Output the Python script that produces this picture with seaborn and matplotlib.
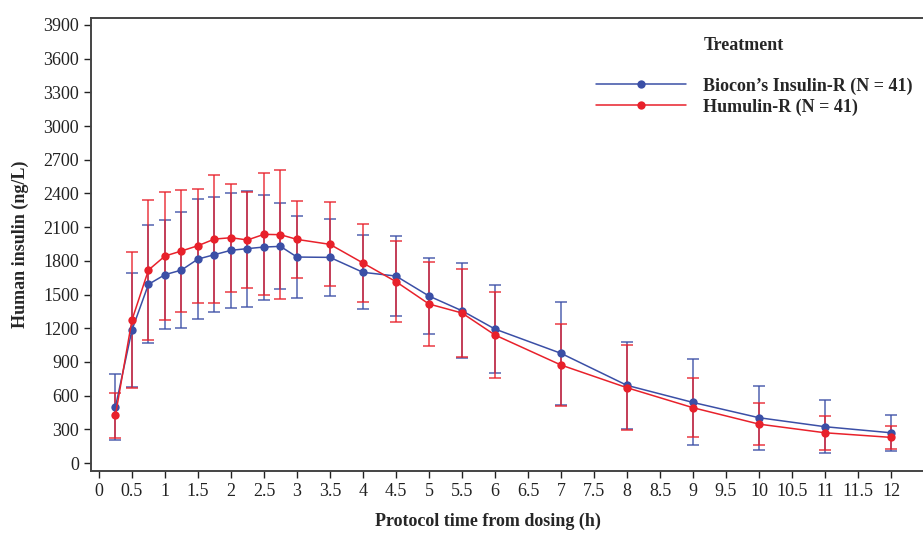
import matplotlib
matplotlib.use("Agg")
import matplotlib.pyplot as plt
import seaborn as sns
import pandas as pd
import numpy as np

# sampling times (h)
time_h = [0.25, 0.5, 0.75, 1, 1.25, 1.5, 1.75, 2, 2.25, 2.5, 2.75, 3,
          3.5, 4, 4.5, 5, 5.5, 6, 7, 8, 9, 10, 11, 12]

# Biocon's Insulin-R mean and SD (ng/L)
biocon_mean = [499, 1184, 1591, 1677, 1718, 1816, 1855, 1894, 1909, 1923, 1929, 1834,
               1831, 1698, 1665, 1487, 1356, 1193, 977, 692, 540, 404, 324, 270]
biocon_sd = [295, 510, 525, 485, 516, 531, 512, 513, 516, 467, 383, 366,
             340, 328, 357, 342, 421, 389, 461, 385, 383, 286, 237, 160]

# Humulin-R mean and SD (ng/L)
humulin_mean = [425, 1273, 1718, 1843, 1888, 1935, 1994, 2006, 1986, 2036, 2033, 1991,
                1947, 1781, 1615, 1416, 1336, 1140, 873, 671, 493, 347, 270, 229]
humulin_sd = [201, 606, 623, 570, 541, 509, 570, 480, 430, 543, 574, 341,
              375, 347, 361, 378, 393, 383, 362, 378, 263, 184, 151, 102]

labels = ["Biocon\u2019s Insulin-R (N = 41)", "Humulin-R (N = 41)"]
colors = ["#3B4FA6", "#E8212B"]

df = pd.concat([
    pd.DataFrame({"time": time_h, "conc": biocon_mean, "sd": biocon_sd, "Treatment": labels[0]}),
    pd.DataFrame({"time": time_h, "conc": humulin_mean, "sd": humulin_sd, "Treatment": labels[1]}),
])

sns.set_style("ticks")
plt.rcParams["font.family"] = ["Liberation Serif", "DejaVu Serif"]

fig = plt.figure(figsize=(9.23, 5.34), dpi=100)
ax = fig.add_axes([0.0986, 0.118, 0.904, 0.848])

palette = dict(zip(labels, colors))
for lab in labels:
    sub = df[df["Treatment"] == lab]
    ax.errorbar(sub["time"], sub["conc"], yerr=sub["sd"], fmt="none",
                ecolor=palette[lab], alpha=0.75, elinewidth=1.3, capsize=4,
                capthick=1.3, zorder=2)

sns.lineplot(data=df, x="time", y="conc", hue="Treatment", palette=palette,
             marker="o", markersize=6, markeredgewidth=0, linewidth=1.1,
             ax=ax, legend=True, zorder=3)

ax.set_xlim(-0.12, 12.52)
ax.set_ylim(-70, 3960)
ax.set_xticks(np.arange(0, 12.01, 0.5))
ax.set_xticklabels([f"{v:g}" for v in np.arange(0, 12.01, 0.5)])
ax.set_yticks(np.arange(0, 3901, 300))
ax.tick_params(labelsize=13, length=5, width=1, colors="#222222", direction="out")
for s in ax.spines.values():
    s.set_color("#444444")
    s.set_linewidth(1.4)

ax.set_xlabel("Protocol time from dosing (h)", fontsize=13, fontweight="bold")
ax.xaxis.set_label_coords(0.476, -0.093)
ax.set_ylabel("Human insulin (ng/L)", fontsize=13, fontweight="bold", labelpad=10)

leg = ax.legend(loc="upper left", bbox_to_anchor=(0.586, 0.905), frameon=False,
                handlelength=5.0, handletextpad=0.9, labelspacing=0.2,
                prop={"size": 13, "weight": "bold"})
fig.text(0.762, 0.915, "Treatment", fontsize=13, fontweight="bold", ha="left", va="center")

fig.savefig("out.png", dpi=100)
